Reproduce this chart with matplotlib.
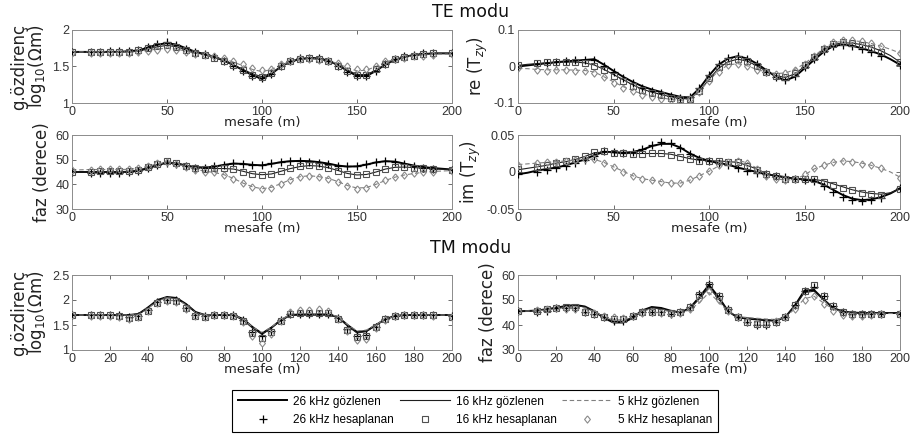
import numpy as np
import matplotlib
matplotlib.use("Agg")
import matplotlib.pyplot as plt
from matplotlib.lines import Line2D
from matplotlib.ticker import FormatStrFormatter

# stations: observed curves every 5 m, computed points skip 5 m and 195 m
x_obs = np.arange(0, 201, 5)
x_calc = np.array([0] + list(range(10, 191, 5)) + [200])

# ---------------- TE mode: apparent resistivity (log10 ohm.m)
rho_te_26 = [1.70, 1.70, 1.70, 1.70, 1.70, 1.70, 1.71, 1.72, 1.76, 1.80, 1.82, 1.80, 1.75, 1.70,
             1.67, 1.63, 1.58, 1.52, 1.45, 1.38, 1.33, 1.40, 1.50, 1.57, 1.60, 1.62, 1.61, 1.58,
             1.52, 1.44, 1.37, 1.37, 1.44, 1.53, 1.59, 1.63, 1.66, 1.67, 1.68, 1.68, 1.68]
rho_te_16 = [1.70, 1.70, 1.70, 1.70, 1.70, 1.70, 1.70, 1.71, 1.74, 1.77, 1.79, 1.77, 1.73, 1.69,
             1.66, 1.62, 1.58, 1.52, 1.46, 1.40, 1.36, 1.41, 1.50, 1.56, 1.60, 1.61, 1.60, 1.57,
             1.52, 1.45, 1.39, 1.39, 1.45, 1.53, 1.59, 1.63, 1.65, 1.67, 1.68, 1.68, 1.68]
rho_te_5 = [1.70, 1.70, 1.70, 1.70, 1.70, 1.70, 1.70, 1.71, 1.72, 1.74, 1.75, 1.74, 1.71, 1.68,
            1.66, 1.63, 1.60, 1.56, 1.51, 1.46, 1.43, 1.46, 1.52, 1.57, 1.60, 1.61, 1.60, 1.58,
            1.54, 1.48, 1.44, 1.45, 1.50, 1.56, 1.60, 1.63, 1.65, 1.66, 1.67, 1.67, 1.67]
rho_te_26_calc = [1.70, 1.70, 1.70, 1.71, 1.71, 1.71, 1.73, 1.77, 1.81, 1.83, 1.80, 1.74, 1.70,
                  1.67, 1.63, 1.57, 1.51, 1.44, 1.37, 1.34, 1.40, 1.51, 1.58, 1.61, 1.62, 1.61,
                  1.58, 1.51, 1.43, 1.37, 1.37, 1.44, 1.54, 1.60, 1.64, 1.66, 1.68, 1.68, 1.69]
rho_te_16_calc = [1.70, 1.70, 1.70, 1.70, 1.70, 1.70, 1.72, 1.75, 1.78, 1.79, 1.77, 1.72, 1.69,
                  1.66, 1.62, 1.57, 1.52, 1.45, 1.39, 1.36, 1.41, 1.51, 1.57, 1.60, 1.61, 1.60,
                  1.57, 1.51, 1.44, 1.38, 1.39, 1.46, 1.54, 1.60, 1.63, 1.65, 1.67, 1.68, 1.69]
rho_te_5_calc = [1.69, 1.69, 1.69, 1.69, 1.69, 1.69, 1.70, 1.71, 1.73, 1.74, 1.73, 1.70, 1.67,
                 1.66, 1.64, 1.61, 1.58, 1.53, 1.48, 1.45, 1.47, 1.53, 1.58, 1.60, 1.60, 1.59,
                 1.58, 1.55, 1.50, 1.46, 1.47, 1.51, 1.57, 1.60, 1.62, 1.64, 1.65, 1.66, 1.67]

# ---------------- TE mode: real tipper
re_26 = [0.000, 0.003, 0.006, 0.009, 0.012, 0.014, 0.016, 0.018, 0.020, 0.005, -0.012, -0.028,
         -0.042, -0.054, -0.063, -0.070, -0.077, -0.083, -0.085, -0.060, -0.025, 0.005, 0.022,
         0.028, 0.022, 0.008, -0.010, -0.028, -0.038, -0.028, -0.005, 0.018, 0.040, 0.056, 0.060,
         0.057, 0.050, 0.042, 0.033, 0.020, 0.005]
re_16 = [0.003, 0.006, 0.008, 0.010, 0.011, 0.012, 0.012, 0.010, 0.004, -0.008, -0.022, -0.036,
         -0.050, -0.062, -0.070, -0.077, -0.083, -0.088, -0.088, -0.068, -0.035, -0.005, 0.013,
         0.020, 0.015, 0.002, -0.013, -0.025, -0.030, -0.020, 0.000, 0.025, 0.046, 0.060, 0.065,
         0.064, 0.060, 0.053, 0.043, 0.030, 0.012]
re_5 = [-0.005, -0.006, -0.008, -0.009, -0.009, -0.009, -0.010, -0.011, -0.015, -0.028, -0.042,
        -0.055, -0.066, -0.075, -0.081, -0.086, -0.090, -0.093, -0.088, -0.068, -0.038, -0.012,
        0.004, 0.008, 0.002, -0.008, -0.015, -0.019, -0.018, -0.008, 0.008, 0.028, 0.050, 0.064,
        0.070, 0.071, 0.068, 0.063, 0.056, 0.047, 0.037]
re_26_calc = [0.001, 0.007, 0.010, 0.013, 0.015, 0.017, 0.019, 0.018, 0.002, -0.016, -0.032,
              -0.046, -0.058, -0.066, -0.073, -0.080, -0.085, -0.084, -0.058, -0.022, 0.008,
              0.024, 0.029, 0.021, 0.006, -0.014, -0.030, -0.038, -0.026, -0.002, 0.020, 0.042,
              0.057, 0.060, 0.056, 0.048, 0.040, 0.030, 0.004]
re_16_calc = [0.004, 0.009, 0.011, 0.012, 0.013, 0.012, 0.009, 0.002, -0.010, -0.025, -0.040,
              -0.053, -0.064, -0.072, -0.079, -0.085, -0.089, -0.088, -0.066, -0.032, -0.002,
              0.014, 0.020, 0.014, 0.000, -0.015, -0.026, -0.029, -0.018, 0.003, 0.027, 0.048,
              0.061, 0.066, 0.064, 0.059, 0.052, 0.041, 0.012]
re_5_calc = [-0.003, -0.010, -0.011, -0.010, -0.010, -0.011, -0.013, -0.018, -0.030, -0.045,
             -0.058, -0.068, -0.077, -0.083, -0.088, -0.092, -0.095, -0.089, -0.070, -0.040,
             -0.014, 0.003, 0.008, 0.001, -0.009, -0.016, -0.020, -0.019, -0.009, 0.007, 0.030,
             0.052, 0.066, 0.072, 0.072, 0.069, 0.064, 0.057, 0.037]

# ---------------- TE mode: phase (degrees)
faz_te_26 = [45.0, 45.0, 45.0, 45.0, 45.0, 45.0, 45.1, 45.5, 46.5, 47.8, 48.8, 48.5, 47.6, 47.0,
             46.8, 47.2, 47.9, 48.4, 48.3, 47.9, 47.7, 48.3, 49.0, 49.4, 49.5, 49.4, 49.0, 48.4,
             47.6, 47.2, 47.3, 48.0, 48.9, 49.4, 49.2, 48.4, 47.6, 47.0, 46.6, 46.3, 46.0]
faz_te_16 = [45.0, 45.0, 45.0, 45.0, 45.0, 45.0, 45.2, 45.8, 46.8, 48.0, 49.0, 48.7, 47.7, 46.9,
             46.5, 46.4, 46.4, 46.2, 45.3, 44.3, 43.9, 44.2, 45.3, 46.4, 47.2, 47.6, 47.4, 46.7,
             45.6, 44.4, 43.8, 44.0, 45.0, 46.2, 46.9, 47.0, 46.8, 46.5, 46.3, 46.1, 46.0]
faz_te_5 = [45.8, 45.9, 46.0, 46.0, 46.0, 46.0, 46.1, 46.5, 47.3, 48.3, 48.8, 48.3, 47.2, 46.1,
            45.3, 44.8, 43.9, 42.4, 40.5, 39.0, 38.2, 38.8, 40.3, 41.9, 43.1, 43.5, 43.1, 42.4,
            41.1, 39.5, 38.5, 38.7, 40.0, 41.6, 42.9, 43.8, 44.4, 44.9, 45.2, 45.4, 45.6]
faz_te_26_calc = [44.8, 44.6, 44.7, 44.6, 44.7, 44.8, 45.3, 46.6, 48.0, 48.8, 48.2, 47.4, 46.7,
                  46.8, 47.4, 48.0, 48.5, 48.2, 47.8, 47.8, 48.6, 49.2, 49.5, 49.4, 49.2, 48.8,
                  48.2, 47.4, 47.3, 47.5, 48.3, 49.2, 49.5, 49.0, 48.1, 47.3, 46.8, 46.4, 45.8]
faz_te_16_calc = [45.2, 45.2, 45.3, 45.3, 45.4, 45.5, 46.0, 47.0, 48.3, 49.3, 48.8, 47.6, 46.7,
                  46.4, 46.5, 46.6, 46.2, 45.2, 44.1, 43.8, 44.3, 45.4, 46.6, 47.4, 47.8, 47.5,
                  46.6, 45.4, 44.2, 43.7, 44.1, 45.2, 46.4, 47.0, 47.1, 46.8, 46.6, 46.4, 46.0]
faz_te_5_calc = [45.9, 46.0, 46.1, 46.1, 46.2, 46.3, 46.8, 47.6, 48.5, 48.9, 48.4, 47.2, 46.0,
                 45.2, 44.9, 43.9, 42.3, 40.4, 38.9, 38.0, 38.7, 40.2, 41.8, 43.0, 43.4, 43.0,
                 42.3, 41.0, 39.4, 38.3, 38.6, 40.0, 41.6, 42.9, 43.8, 44.4, 44.9, 45.2, 45.6]

# ---------------- TE mode: imaginary tipper
im_26 = [-0.003, -0.001, 0.002, 0.004, 0.006, 0.009, 0.013, 0.017, 0.023, 0.027, 0.027, 0.026,
         0.027, 0.030, 0.035, 0.038, 0.038, 0.033, 0.025, 0.019, 0.015, 0.012, 0.010, 0.006,
         0.003, 0.000, -0.003, -0.005, -0.007, -0.009, -0.010, -0.012, -0.017, -0.024, -0.031,
         -0.036, -0.038, -0.037, -0.034, -0.029, -0.022]
im_16 = [0.003, 0.005, 0.007, 0.009, 0.012, 0.014, 0.017, 0.021, 0.026, 0.027, 0.026, 0.025,
         0.025, 0.025, 0.025, 0.025, 0.024, 0.021, 0.018, 0.016, 0.015, 0.015, 0.014, 0.013,
         0.009, 0.004, -0.002, -0.005, -0.008, -0.009, -0.010, -0.010, -0.012, -0.016, -0.020,
         -0.024, -0.027, -0.029, -0.030, -0.028, -0.023]
im_5 = [0.010, 0.011, 0.012, 0.013, 0.014, 0.015, 0.016, 0.018, 0.017, 0.013, 0.007, 0.001,
        -0.005, -0.009, -0.011, -0.013, -0.015, -0.015, -0.011, -0.005, 0.001, 0.008, 0.013,
        0.015, 0.013, 0.005, -0.004, -0.009, -0.011, -0.010, -0.004, 0.004, 0.009, 0.013, 0.015,
        0.014, 0.012, 0.009, 0.005, 0.000, -0.007]
im_26_calc = [-0.003, 0.000, 0.003, 0.005, 0.008, 0.012, 0.016, 0.022, 0.028, 0.027, 0.026,
              0.027, 0.031, 0.036, 0.040, 0.039, 0.032, 0.024, 0.018, 0.015, 0.012, 0.009, 0.005,
              0.002, -0.001, -0.003, -0.006, -0.007, -0.009, -0.011, -0.012, -0.019, -0.027,
              -0.034, -0.038, -0.039, -0.038, -0.035, -0.022]
im_16_calc = [0.004, 0.007, 0.010, 0.012, 0.015, 0.018, 0.022, 0.027, 0.028, 0.026, 0.025,
              0.024, 0.024, 0.025, 0.025, 0.023, 0.020, 0.017, 0.015, 0.015, 0.015, 0.014, 0.013,
              0.008, 0.003, -0.003, -0.006, -0.009, -0.010, -0.010, -0.010, -0.013, -0.017,
              -0.021, -0.025, -0.028, -0.030, -0.031, -0.023]
im_5_calc = [0.009, 0.012, 0.013, 0.014, 0.015, 0.016, 0.018, 0.017, 0.012, 0.007, 0.000,
             -0.006, -0.009, -0.011, -0.014, -0.015, -0.015, -0.010, -0.005, 0.002, 0.009, 0.014,
             0.015, 0.012, 0.004, -0.005, -0.010, -0.011, -0.009, -0.003, 0.005, 0.009, 0.014,
             0.015, 0.014, 0.011, 0.009, 0.005, -0.008]

# ---------------- TM mode: apparent resistivity
rho_tm_26 = [1.70, 1.70, 1.70, 1.70, 1.70, 1.70, 1.70, 1.72, 1.85, 2.00, 2.06, 2.04, 1.92, 1.76,
             1.70, 1.70, 1.70, 1.70, 1.62, 1.46, 1.33, 1.45, 1.60, 1.70, 1.71, 1.71, 1.71, 1.71,
             1.66, 1.50, 1.36, 1.38, 1.50, 1.62, 1.68, 1.70, 1.70, 1.70, 1.70, 1.70, 1.70]
rho_tm_16 = [1.70, 1.70, 1.70, 1.70, 1.70, 1.70, 1.70, 1.72, 1.84, 1.99, 2.05, 2.03, 1.91, 1.75,
             1.69, 1.70, 1.70, 1.69, 1.60, 1.44, 1.31, 1.44, 1.60, 1.69, 1.70, 1.70, 1.70, 1.70,
             1.65, 1.48, 1.34, 1.37, 1.50, 1.62, 1.68, 1.70, 1.70, 1.70, 1.70, 1.70, 1.70]
rho_tm_5 = [1.70, 1.70, 1.70, 1.70, 1.70, 1.70, 1.70, 1.71, 1.83, 1.98, 2.04, 2.02, 1.90, 1.75,
            1.70, 1.70, 1.70, 1.70, 1.62, 1.46, 1.35, 1.46, 1.61, 1.71, 1.72, 1.72, 1.72, 1.72,
            1.67, 1.51, 1.38, 1.40, 1.51, 1.62, 1.68, 1.70, 1.70, 1.70, 1.70, 1.70, 1.70]
rho_tm_26_calc = [1.71, 1.71, 1.71, 1.71, 1.70, 1.66, 1.68, 1.80, 1.96, 2.01, 2.00, 1.85, 1.70,
                  1.68, 1.70, 1.70, 1.70, 1.60, 1.37, 1.28, 1.38, 1.60, 1.72, 1.72, 1.72, 1.72,
                  1.72, 1.64, 1.42, 1.28, 1.30, 1.47, 1.63, 1.69, 1.70, 1.70, 1.70, 1.70, 1.68]
rho_tm_16_calc = [1.71, 1.70, 1.70, 1.70, 1.69, 1.65, 1.67, 1.79, 1.95, 2.00, 1.99, 1.84, 1.69,
                  1.67, 1.70, 1.70, 1.69, 1.58, 1.34, 1.24, 1.36, 1.59, 1.73, 1.74, 1.74, 1.75,
                  1.74, 1.63, 1.40, 1.26, 1.28, 1.46, 1.62, 1.69, 1.70, 1.70, 1.70, 1.70, 1.67]
rho_tm_5_calc = [1.70, 1.69, 1.68, 1.69, 1.67, 1.63, 1.66, 1.78, 1.94, 1.98, 1.97, 1.83, 1.68,
                 1.66, 1.70, 1.71, 1.69, 1.56, 1.29, 1.15, 1.33, 1.58, 1.76, 1.80, 1.81, 1.83,
                 1.79, 1.62, 1.38, 1.21, 1.23, 1.44, 1.61, 1.68, 1.70, 1.70, 1.70, 1.69, 1.66]

# ---------------- TM mode: phase
faz_tm_26 = [45.5, 45.6, 45.8, 46.3, 46.9, 47.6, 48.0, 47.4, 45.5, 42.8, 41.0, 41.0, 42.8, 45.8,
             47.2, 46.8, 45.7, 45.0, 46.8, 51.2, 56.0, 51.2, 45.5, 43.0, 42.6, 42.2, 41.9, 41.7,
             43.2, 47.8, 53.8, 54.0, 50.2, 46.8, 45.4, 45.0, 44.8, 44.8, 44.8, 44.8, 44.8]
faz_tm_16 = [45.5, 45.6, 45.8, 46.2, 46.8, 47.4, 47.8, 47.2, 45.5, 43.0, 41.5, 41.5, 43.2, 45.8,
             46.9, 46.5, 45.5, 45.0, 46.5, 50.5, 55.0, 50.5, 45.4, 43.2, 42.8, 42.4, 42.1, 41.9,
             43.3, 47.5, 53.0, 53.5, 50.0, 46.8, 45.4, 45.0, 44.8, 44.8, 44.8, 44.8, 44.8]
faz_tm_5 = [45.5, 45.6, 45.7, 46.0, 46.4, 46.9, 47.2, 46.8, 45.3, 43.3, 42.0, 42.1, 43.5, 45.5,
            46.4, 46.1, 45.3, 45.0, 46.0, 49.0, 53.0, 49.3, 45.2, 43.4, 43.0, 42.7, 42.4, 42.2,
            43.2, 46.5, 50.5, 51.5, 48.8, 46.3, 45.1, 44.8, 44.6, 44.6, 44.6, 44.6, 44.6]
faz_tm_26_calc = [45.5, 45.3, 45.8, 46.6, 46.8, 46.8, 45.0, 44.3, 43.2, 41.8, 41.8, 43.5, 45.0,
                  45.0, 45.0, 44.5, 45.0, 47.2, 52.5, 56.5, 51.8, 46.2, 43.2, 41.0, 40.0, 40.0,
                  41.0, 43.0, 48.0, 53.5, 55.2, 51.5, 47.5, 45.0, 44.3, 44.3, 44.5, 44.5, 44.5]
faz_tm_16_calc = [45.8, 45.8, 46.2, 46.8, 47.0, 47.0, 45.3, 44.5, 43.4, 42.3, 42.3, 43.8, 45.2,
                  45.3, 45.2, 44.6, 45.0, 47.0, 52.0, 56.0, 51.5, 46.0, 43.2, 41.2, 40.2, 40.2,
                  41.2, 43.0, 48.0, 53.5, 56.0, 51.8, 47.5, 45.0, 44.2, 44.2, 44.4, 44.4, 44.4]
faz_tm_5_calc = [45.8, 46.0, 46.4, 46.7, 46.5, 46.3, 45.5, 44.8, 43.8, 43.0, 42.8, 43.8, 44.9,
                 45.0, 44.8, 44.3, 44.8, 46.5, 50.5, 53.5, 50.0, 45.5, 43.0, 41.5, 40.6, 40.6,
                 41.5, 43.0, 46.5, 49.8, 51.5, 48.5, 45.8, 44.0, 43.5, 43.6, 44.0, 44.2, 44.2]

obs_labels = ['26 kHz gözlenen', '16 kHz gözlenen', '5 kHz gözlenen']
calc_labels = ['26 kHz hesaplanan', '16 kHz hesaplanan', '5 kHz hesaplanan']

TICK_FONT = 'Liberation Sans'
# diamond a little taller than wide
DIAMOND = [(0, 1), (0.8, 0), (0, -1), (-0.8, 0), (0, 1)]
LINE_STYLES = [dict(color='black', lw=1.4, ls='-'),
               dict(color='#202020', lw=0.8, ls='-'),
               dict(color='#808080', lw=0.8, ls=(0, (4, 2.5)))]
MARKER_STYLES = [dict(marker='+', ms=5.5, mew=0.9, color='black'),
                 dict(marker='s', ms=3.8, mew=0.8, mfc='none', mec='#505050'),
                 dict(marker=DIAMOND, ms=5.2, mew=0.8, mfc='none', mec='#8a8a8a')]


def panel(ax, obs, calc, ylim, yticks, xticks, ylabel, fmt='%g'):
    for y, st in zip(obs, LINE_STYLES):
        ax.plot(x_obs, y, zorder=2, **st)
    for y, st in zip(calc, MARKER_STYLES):
        ax.plot(x_calc, y, ls='none', zorder=3, **st)
    ax.set_xlim(0, 200)
    ax.set_ylim(*ylim)
    ax.set_xticks(xticks)
    ax.set_yticks(yticks)
    ax.yaxis.set_major_formatter(FormatStrFormatter(fmt))
    ax.tick_params(direction='in', top=True, right=True, length=3, width=0.6,
                   colors='#555555', labelsize=9, pad=2)
    for lab in ax.get_xticklabels() + ax.get_yticklabels():
        lab.set_fontfamily(TICK_FONT)
        lab.set_color('#333333')
    for sp in ax.spines.values():
        sp.set_color('#8c8c8c')
        sp.set_linewidth(0.7)
    ax.set_xlabel('mesafe (m)', fontsize=9.5, labelpad=-1, color='#222222')
    ax.set_ylabel(ylabel, fontsize=12, labelpad=3, linespacing=0.85, color='#222222')


plt.rcParams['font.family'] = ['DejaVu Sans']
plt.rcParams['mathtext.fontset'] = 'dejavusans'

fig = plt.figure(figsize=(9.12, 4.36), dpi=100)
W, H = 912.0, 436.0


def add_axes(left, right, top, bottom):
    return fig.add_axes([left / W, 1 - bottom / H, (right - left) / W, (bottom - top) / H])


ax1 = add_axes(72, 452, 30, 103)
ax2 = add_axes(518, 900, 30, 103)
ax3 = add_axes(72, 452, 135, 209)
ax4 = add_axes(518, 900, 135, 209)
ax5 = add_axes(72, 452, 275, 350)
ax6 = add_axes(518, 900, 275, 350)

xt50 = [0, 50, 100, 150, 200]
xt20 = list(range(0, 201, 20))
rho_label = 'g.özdirenç\nlog$_{10}$(Ωm)'

panel(ax1, [rho_te_26, rho_te_16, rho_te_5], [rho_te_26_calc, rho_te_16_calc, rho_te_5_calc],
      (1, 2), [1, 1.5, 2], xt50, rho_label)
panel(ax2, [re_26, re_16, re_5], [re_26_calc, re_16_calc, re_5_calc],
      (-0.1, 0.1), [-0.1, 0, 0.1], xt50, 're (T$_{zy}$)')
panel(ax3, [faz_te_26, faz_te_16, faz_te_5], [faz_te_26_calc, faz_te_16_calc, faz_te_5_calc],
      (30, 60), [30, 40, 50, 60], xt50, 'faz (derece)')
panel(ax4, [im_26, im_16, im_5], [im_26_calc, im_16_calc, im_5_calc],
      (-0.05, 0.05), [-0.05, 0, 0.05], xt50, 'im (T$_{zy}$)')
panel(ax5, [rho_tm_26, rho_tm_16, rho_tm_5], [rho_tm_26_calc, rho_tm_16_calc, rho_tm_5_calc],
      (1, 2.5), [1, 1.5, 2, 2.5], xt20, rho_label)
panel(ax6, [faz_tm_26, faz_tm_16, faz_tm_5], [faz_tm_26_calc, faz_tm_16_calc, faz_tm_5_calc],
      (30, 60), [30, 40, 50, 60], xt20, 'faz (derece)')

fig.text(471 / W, 1 - 12 / H, 'TE modu', ha='center', va='center', fontsize=12.5, color='#111111')
fig.text(471 / W, 1 - 248 / H, 'TM modu', ha='center', va='center', fontsize=12.5, color='#111111')

# legend: observed curves in the top row, computed points underneath
handles, labels = [], []
for i in range(3):
    handles.append(Line2D([], [], **LINE_STYLES[i]))
    labels.append(obs_labels[i])
    handles.append(Line2D([], [], ls='none', **MARKER_STYLES[i]))
    labels.append(calc_labels[i])

leg = fig.legend(handles, labels, ncol=3, loc='lower left',
                 bbox_to_anchor=(232 / W, 1 - 432 / H, 486 / W, 44 / H), mode='expand',
                 borderaxespad=0, fancybox=False, edgecolor='black', framealpha=1,
                 prop={'family': TICK_FONT, 'size': 8.5}, handlelength=4.2,
                 handletextpad=0.5, columnspacing=1.2, labelspacing=0.55, borderpad=0.5)
leg.get_frame().set_linewidth(0.8)

fig.savefig('out.png', dpi=100)
